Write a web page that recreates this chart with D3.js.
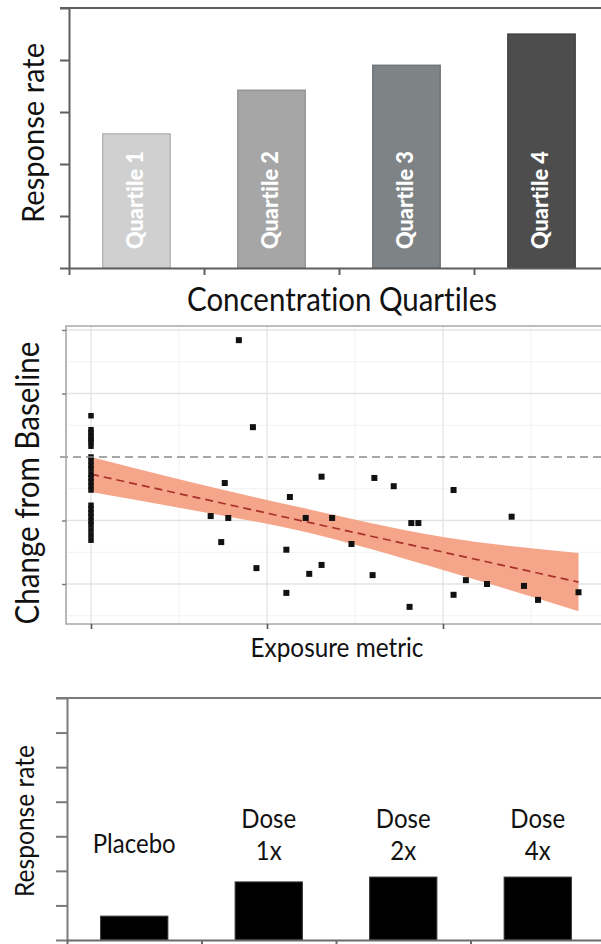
<!DOCTYPE html>
<html>
<head>
<meta charset="utf-8">
<script src="https://cdn.jsdelivr.net/npm/d3@7"></script>
<style>
  html, body { margin: 0; padding: 0; background: #fff; }
  svg { display: block; font-family: Lato, "Open Sans", sans-serif; font-variant-ligatures: none; }
</style>
</head>
<body>
<svg id="chart" width="601" height="944"></svg>
<script>
// top panel: response rate by concentration quartile
const quartiles = ['Quartile 1', 'Quartile 2', 'Quartile 3', 'Quartile 4'];
const quartileRates = [2.58, 3.42, 3.9, 4.5];
const quartileFills = ['#d0d0d0', '#a6a6a6', '#7e8386', '#4d4d4d'];
const quartileStrokes = ['#ababab', '#8c8c8c', '#686c6e', '#3c3c3c'];

// middle panel: change from baseline vs exposure
const placeboChange = [0.65, 0.43, 0.38, 0.33, 0.28, 0.24, 0.17, 0.0, -0.06, -0.13,
  -0.19, -0.27, -0.33, -0.39, -0.46, -0.52, -0.76, -0.82, -0.88, -0.94, -1.01,
  -1.07, -1.15, -1.23, -1.31];
const exposure = [0.84, 0.92, 0.76, 0.68, 0.78, 0.74, 0.94, 1.11, 1.11, 1.13, 1.31,
  1.22, 1.37, 1.48, 1.24, 1.31, 1.61, 1.72, 1.60, 1.82, 1.86, 1.81, 2.06, 2.06,
  2.13, 2.25, 2.39, 2.46, 2.54, 2.77];
const change = [1.84, 0.47, -0.41, -0.93, -0.96, -1.34, -1.75, -1.46, -2.14, -0.63,
  -0.31, -0.96, -0.96, -1.37, -1.84, -1.70, -0.33, -0.46, -1.86, -1.04, -1.04,
  -2.36, -0.52, -2.17, -1.94, -2.0, -0.94, -2.03, -2.25, -2.13];
const fitX = [0, 2.77];
const fitY = [-0.27, -1.97];
const bandX = [0, 0.5, 1.2, 2.0, 2.77];
const bandUpper = [0, -0.35, -0.80, -1.26, -1.51];
const bandLower = [-0.55, -0.80, -1.17, -1.78, -2.43];

// bottom panel: response rate by dose
const doses = ['Placebo', 'Dose 1x', 'Dose 2x', 'Dose 4x'];
const doseLabelLines = [['Placebo'], ['Dose', '1x'], ['Dose', '2x'], ['Dose', '4x']];
const doseRates = [0.69, 1.68, 1.82, 1.82];

const svg = d3.select('#chart');
const axisColor = '#5e5e5e';

// size a text node (optionally to a target width) and squeeze its glyphs a little,
// so Lato reads closer to the Calibri of the original
function placeText(text, width, squeeze = 0.92) {
  let size = parseFloat(text.attr('font-size'));
  let len = text.node().getComputedTextLength();
  if (width) {
    size = (size * width) / (len * squeeze);
    text.attr('font-size', size);
    len = text.node().getComputedTextLength();
  }
  if (squeeze !== 1) {
    text.attr('textLength', len * squeeze).attr('lengthAdjust', 'spacingAndGlyphs');
  }
  return size;
}

function styleAxis(g, color, width) {
  g.selectAll('path, line').attr('stroke', color).attr('stroke-width', width);
}

// ---------- panel 1 ----------
const x1 = d3.scaleBand().domain(quartiles).range([69, 609]).paddingInner(0.5).paddingOuter(0.25);
const x1edge = d3.scaleLinear().domain([0, 4]).range(x1.range());
const y1 = d3.scaleLinear().domain([0, 5]).range([268, 8]);

const p1 = svg.append('g');

p1.selectAll('rect')
  .data(quartiles)
  .join('rect')
  .attr('x', (d) => x1(d))
  .attr('y', (d, i) => y1(quartileRates[i]))
  .attr('width', x1.bandwidth())
  .attr('height', (d, i) => y1(0) - y1(quartileRates[i]))
  .attr('fill', (d, i) => quartileFills[i])
  .attr('stroke', (d, i) => quartileStrokes[i])
  .attr('stroke-width', 1.2);

p1.selectAll('text.qlabel')
  .data(quartiles)
  .join('text')
  .attr('class', 'qlabel')
  .attr('transform', (d) => `translate(${x1(d) + x1.bandwidth() / 2 + 6},${y1(0) - 19}) rotate(-90)`)
  .attr('font-size', 20)
  .attr('font-weight', 900)
  .attr('fill', '#fff')
  .text((d) => d)
  .each(function () {
    placeText(d3.select(this), 98, 1);
  });

p1.append('g')
  .attr('transform', 'translate(69,0)')
  .call(d3.axisLeft(y1).tickValues([0, 1, 2, 3, 4, 5]).tickSize(9).tickSizeOuter(0).tickFormat(''))
  .call(styleAxis, axisColor, 2);
p1.append('g')
  .attr('transform', 'translate(0,268)')
  .call(d3.axisBottom(x1edge).tickValues([0, 1, 2, 3]).tickSize(7).tickSizeOuter(0).tickFormat(''))
  .call(styleAxis, axisColor, 2);
p1.append('line')
  .attr('x1', 60).attr('x2', 601)
  .attr('y1', y1(5)).attr('y2', y1(5))
  .attr('stroke', axisColor).attr('stroke-width', 2);

const t1y = p1.append('text')
  .attr('transform', 'translate(44,133) rotate(-90)')
  .attr('text-anchor', 'middle')
  .attr('font-size', 24)
  .attr('fill', '#111')
  .text('Response rate');
placeText(t1y, 180);

const t1x = p1.append('text')
  .attr('x', 342).attr('y', 311)
  .attr('text-anchor', 'middle')
  .attr('font-size', 24)
  .attr('fill', '#111')
  .text('Concentration Quartiles');
placeText(t1x, 310);

// ---------- panel 2 ----------
const x2 = d3.scaleLinear().domain([0, 1]).range([91, 267]);
const y2 = d3.scaleLinear().domain([0, 1]).range([457, 393.5]);
const frame = { left: 66, top: 326, right: 640, bottom: 624 };

const p2 = svg.append('g');
p2.append('clipPath').attr('id', 'clip2')
  .append('rect')
  .attr('x', frame.left).attr('y', frame.top)
  .attr('width', frame.right - frame.left).attr('height', frame.bottom - frame.top);

const plot2 = p2.append('g').attr('clip-path', 'url(#clip2)');

// minor then major grid
plot2.selectAll('line.minor-h')
  .data([-2.5, -1.5, -0.5, 0.5, 1.5])
  .join('line')
  .attr('x1', frame.left).attr('x2', frame.right)
  .attr('y1', (d) => y2(d)).attr('y2', (d) => y2(d))
  .attr('stroke', '#f2f2f2').attr('stroke-width', 1);
plot2.selectAll('line.minor-v')
  .data([0.5, 1.5, 2.5])
  .join('line')
  .attr('y1', frame.top).attr('y2', frame.bottom)
  .attr('x1', (d) => x2(d)).attr('x2', (d) => x2(d))
  .attr('stroke', '#f2f2f2').attr('stroke-width', 1);
plot2.selectAll('line.major-h')
  .data([-2, -1, 1, 2])
  .join('line')
  .attr('x1', frame.left).attr('x2', frame.right)
  .attr('y1', (d) => y2(d)).attr('y2', (d) => y2(d))
  .attr('stroke', '#e3e3e3').attr('stroke-width', 1.3);
plot2.selectAll('line.major-v')
  .data([0, 1, 2])
  .join('line')
  .attr('y1', frame.top).attr('y2', frame.bottom)
  .attr('x1', (d) => x2(d)).attr('x2', (d) => x2(d))
  .attr('stroke', '#e3e3e3').attr('stroke-width', 1.3);

const band = d3.area()
  .x((d, i) => x2(bandX[i]))
  .y0((d, i) => y2(bandLower[i]))
  .y1((d, i) => y2(bandUpper[i]))
  .curve(d3.curveMonotoneX);
plot2.append('path')
  .datum(bandX)
  .attr('d', band)
  .attr('fill', '#f4a184')
  .attr('opacity', 0.95);

plot2.append('path')
  .datum(fitX)
  .attr('d', d3.line().x((d, i) => x2(fitX[i])).y((d, i) => y2(fitY[i])))
  .attr('fill', 'none')
  .attr('stroke', '#a8322b')
  .attr('stroke-width', 1.7)
  .attr('stroke-dasharray', '8,5');

const ptSize = 5.5;
plot2.selectAll('rect.placebo')
  .data(placeboChange)
  .join('rect')
  .attr('class', 'placebo')
  .attr('x', x2(0) - ptSize / 2)
  .attr('y', (d) => y2(d) - ptSize / 2)
  .attr('width', ptSize).attr('height', ptSize)
  .attr('fill', '#111');
plot2.selectAll('rect.active')
  .data(exposure)
  .join('rect')
  .attr('class', 'active')
  .attr('x', (d) => x2(d) - 3)
  .attr('y', (d, i) => y2(change[i]) - 3)
  .attr('width', 6).attr('height', 6)
  .attr('fill', '#111');

// zero reference line
p2.append('line')
  .attr('x1', 60).attr('x2', 601)
  .attr('y1', y2(0)).attr('y2', y2(0))
  .attr('stroke', '#8a8a8a').attr('stroke-width', 1.7)
  .attr('stroke-dasharray', '8,5');

// frame
p2.append('path')
  .attr('d', `M${frame.right},${frame.top}H${frame.left}V${frame.bottom}H${frame.right}`)
  .attr('fill', 'none')
  .attr('stroke', '#a8a8a8')
  .attr('stroke-width', 1.6);

p2.append('g')
  .attr('transform', `translate(${frame.left},0)`)
  .call(d3.axisLeft(y2).tickValues([-2, -1, 1, 2]).tickSize(4).tickFormat(''))
  .call((g) => g.select('.domain').remove())
  .call(styleAxis, '#777', 1.4);
p2.append('g')
  .attr('transform', `translate(0,${frame.bottom})`)
  .call(d3.axisBottom(x2).tickValues([0, 1, 2]).tickSize(5).tickFormat(''))
  .call((g) => g.select('.domain').remove())
  .call(styleAxis, '#555', 1.6);

const t2y = p2.append('text')
  .attr('transform', 'translate(39,483) rotate(-90)')
  .attr('text-anchor', 'middle')
  .attr('font-size', 24)
  .attr('fill', '#111')
  .text('Change from Baseline');
placeText(t2y, 283);

const t2x = p2.append('text')
  .attr('x', 337).attr('y', 657)
  .attr('text-anchor', 'middle')
  .attr('font-size', 18)
  .attr('fill', '#111')
  .text('Exposure metric');
placeText(t2x, 173);

// ---------- panel 3 ----------
const x3 = d3.scaleBand().domain(doses).range([67, 605]).paddingInner(0.5).paddingOuter(0.25);
const x3edge = d3.scaleLinear().domain([0, 4]).range(x3.range());
const y3 = d3.scaleLinear().domain([0, 7]).range([940, 698]);

const p3 = svg.append('g');

p3.selectAll('rect')
  .data(doses)
  .join('rect')
  .attr('x', (d) => x3(d))
  .attr('y', (d, i) => y3(doseRates[i]))
  .attr('width', x3.bandwidth())
  .attr('height', (d, i) => y3(0) - y3(doseRates[i]))
  .attr('fill', '#000')
  .attr('stroke', '#333')
  .attr('stroke-width', 1);

p3.append('g')
  .attr('transform', 'translate(67,0)')
  .call(d3.axisLeft(y3).tickValues([0, 1, 2, 3, 4, 5, 6, 7]).tickSize(11).tickSizeOuter(0).tickFormat(''))
  .call(styleAxis, '#7a7a7a', 2);
p3.append('g')
  .attr('transform', 'translate(0,940)')
  .call(d3.axisBottom(x3edge).tickValues([0, 1, 2, 3]).tickSize(5).tickSizeOuter(0).tickFormat(''))
  .call(styleAxis, '#6a6a6a', 2);
p3.append('line')
  .attr('x1', 56).attr('x2', 601)
  .attr('y1', y3(7)).attr('y2', y3(7))
  .attr('stroke', '#7a7a7a').attr('stroke-width', 2);

// labels above bars
const placeboText = p3.append('text')
  .attr('x', x3(doses[0]) + x3.bandwidth() / 2)
  .attr('y', 853)
  .attr('text-anchor', 'middle')
  .attr('font-size', 20)
  .attr('fill', '#111')
  .text(doseLabelLines[0][0]);
const labelSize = placeText(placeboText, 83);

doses.slice(1).forEach((d, k) => {
  const lines = doseLabelLines[k + 1];
  lines.forEach((line, j) => {
    const t = p3.append('text')
      .attr('x', x3(d) + x3.bandwidth() / 2)
      .attr('y', 828 + j * 32)
      .attr('text-anchor', 'middle')
      .attr('font-size', labelSize)
      .attr('fill', '#111')
      .text(line);
    placeText(t);
  });
});

const t3y = p3.append('text')
  .attr('transform', 'translate(34,821) rotate(-90)')
  .attr('text-anchor', 'middle')
  .attr('font-size', 20)
  .attr('fill', '#111')
  .text('Response rate');
placeText(t3y, 152);
</script>
</body>
</html>
